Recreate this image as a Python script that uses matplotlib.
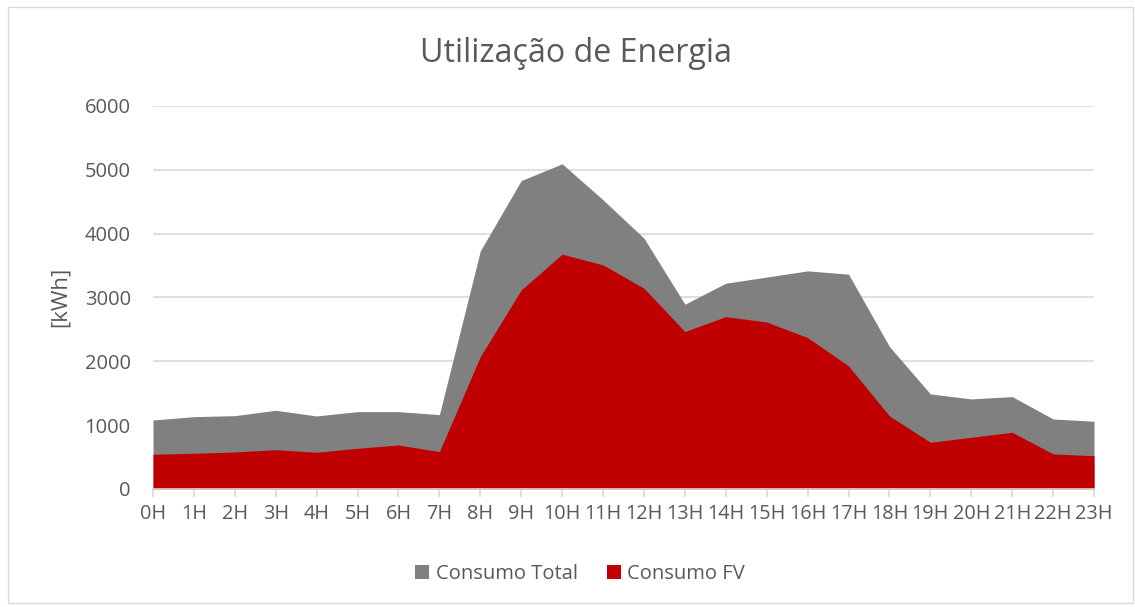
import matplotlib.pyplot as plt
import numpy as np

# dados
horas = ['%dH' % h for h in range(24)]
consumo_total = [1081, 1133, 1149, 1233, 1144, 1212, 1212, 1165, 3730, 4832, 5094, 4530,
                 3929, 2895, 3224, 3320, 3417, 3365, 2231, 1489, 1411, 1447, 1097, 1061]
consumo_fv = [544, 559, 580, 616, 575, 638, 690, 585, 2074, 3119, 3678, 3511,
              3145, 2466, 2701, 2615, 2372, 1928, 1144, 732, 810, 888, 549, 522]

plt.rcParams['font.family'] = ['Open Sans', 'DejaVu Sans']
txt = '#595959'
grid = '#D9D9D9'

fig = plt.figure(figsize=(11.35, 6.07), dpi=100)
ax = fig.add_axes([0.1348, 0.1944, 0.8291, 0.631])
x = np.arange(len(horas))

ax.fill_between(x, consumo_total, color='#808080', linewidth=0, label='Consumo Total')
ax.fill_between(x, consumo_fv, color='#C00000', linewidth=0, label='Consumo FV')

ax.set_xlim(0, 23)
ax.set_ylim(0, 6000)
ax.set_yticks(range(0, 6001, 1000))
ax.set_xticks(x)
ax.set_xticklabels(horas)
ax.yaxis.grid(True, color=grid, linewidth=1.2)
ax.set_axisbelow(True)
for s in ['top', 'right', 'left']:
    ax.spines[s].set_visible(False)
ax.spines['bottom'].set_color(grid)
ax.spines['bottom'].set_linewidth(1.2)
ax.tick_params(axis='y', length=0, labelsize=14.5, colors=txt, pad=16)
ax.tick_params(axis='x', length=6, color=grid, width=1.2, labelsize=14.3, colors=txt, pad=5)

fig.text(60 / 1135, 1 - 297 / 607, '[kWh]', rotation=90, ha='center', va='center',
         fontsize=16, color=txt)
fig.text(576 / 1135, 1 - 53 / 607, 'Utilização de Energia', ha='center', va='center',
         fontsize=23.2, color=txt)

fig.legend(loc='center', bbox_to_anchor=(580 / 1135, 1 - 574 / 607), ncol=2, frameon=False,
           fontsize=14.5, labelcolor=txt, handlelength=0.7, handleheight=0.7,
           handletextpad=0.3, columnspacing=1.45, borderpad=0)

# borda do grafico
fig.patches.append(plt.Rectangle((0.007, 0.007), 0.991, 0.982, transform=fig.transFigure,
                                 fill=False, edgecolor=grid, linewidth=1))

fig.savefig('out.png', dpi=100)
